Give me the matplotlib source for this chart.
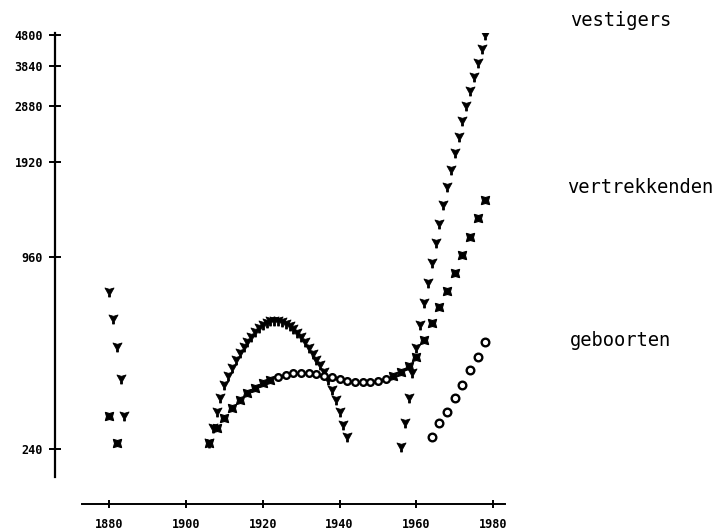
import matplotlib
matplotlib.use("Agg")
import matplotlib.pyplot as plt
from matplotlib.path import Path
from matplotlib.ticker import FixedLocator, NullLocator

# vestigers (settlers)
vest_years_early = [1880, 1881, 1882, 1883, 1884]
vest_early = [747, 615, 502, 398, 305]
vest_years_mid = list(range(1906, 1943))
vest_mid = [251, 279, 314, 347, 381, 407, 431, 457, 481, 502,
            521, 540, 560, 576, 589, 597, 606, 606, 606, 601,
            593, 584, 572, 556, 540, 521, 498, 477, 457, 441,
            419, 396, 368, 342, 314, 286, 262]
vest_years_late = list(range(1956, 1979))
vest_late = [243, 290, 347, 416, 498, 589, 690, 798, 922, 1066,
             1223, 1402, 1596, 1807, 2045, 2294, 2575, 2870, 3203, 3547,
             3923, 4337, 4800]

# vertrekkenden (leavers)
vert_years_early = [1880, 1882]
vert_early = [305, 251]
vert_years_mid = list(range(1906, 1923, 2))
vert_mid = [251, 279, 300, 323, 342, 360, 373, 387, 396]
vert_years_late = list(range(1954, 1979, 2))
vert_late = [407, 419, 438, 467, 528, 597, 671, 753, 857, 977, 1113, 1277, 1455]

# geboorten (births)
geb_years_mid = list(range(1924, 1953, 2))
geb_mid = [404, 410, 416, 416, 416, 413, 407, 404, 398, 393, 390, 390, 390, 393, 398]
geb_years_late = list(range(1964, 1979, 2))
geb_late = [262, 290, 314, 347, 381, 425, 467, 521]

yticks = [240, 960, 1920, 2880, 3840, 4800]
xticks = [1880, 1900, 1920, 1940, 1960, 1980]

# plotter-like "Y" glyph: filled arrowhead pointing down with a short stem
ymark = Path([(-1, 1), (0, 0.7), (1, 1), (0.25, -0.35), (0.2, -1),
              (-0.2, -1), (-0.25, -0.35), (-1, 1)],
             [Path.MOVETO] + [Path.LINETO] * 6 + [Path.CLOSEPOLY])

W, H = 723, 531
fig = plt.figure(figsize=(W / 100, H / 100), dpi=100)
ax = fig.add_axes([55 / W, (H - 504) / H, 455 / W, 471 / H])

ax.set_yscale("log")
ax.set_xlim(1865.9, 1984.4)
ax.set_ylim(161.2, 4870)

vstyle = dict(ls="none", marker=ymark, ms=6.5, mew=0.6, color="black")
xstyle = dict(ls="none", marker=(4, 1, 45), ms=8.5, mew=0.8, color="black")
ostyle = dict(ls="none", marker="o", ms=5.5, mfc="white", mec="black", mew=1.7)

for yrs, vals in [(vest_years_early, vest_early), (vest_years_mid, vest_mid),
                  (vest_years_late, vest_late)]:
    ax.plot(yrs, vals, **vstyle)
for yrs, vals in [(vert_years_early, vert_early), (vert_years_mid, vert_mid),
                  (vert_years_late, vert_late)]:
    ax.plot(yrs, vals, **xstyle)
ax.plot(geb_years_mid, geb_mid, **dict(ostyle, ms=4.8))
ax.plot(geb_years_late, geb_late, **ostyle)

for s in ["top", "right"]:
    ax.spines[s].set_visible(False)
ax.spines["left"].set_bounds(196, 4870)
ax.spines["bottom"].set_bounds(1873, 1983)
ax.spines["left"].set_linewidth(1.6)
ax.spines["bottom"].set_linewidth(1.4)

tfont = dict(family="DejaVu Sans Mono", weight="bold", size=8.5)
ax.yaxis.set_major_locator(FixedLocator(yticks))
ax.yaxis.set_minor_locator(NullLocator())
ax.set_yticklabels([str(t) for t in yticks], fontdict=tfont)
ax.set_xticks(xticks)
ax.set_xticklabels([str(t) for t in xticks], fontdict=tfont)
ax.tick_params(axis="y", direction="inout", length=9, width=1.4, pad=4)
ax.tick_params(axis="x", direction="inout", length=6, width=1.4, pad=7)

lfont = dict(family="DejaVu Sans Mono", size=13.5, va="center", ha="left")
fig.text(570 / W, 1 - 20 / H, "vestigers", **lfont)
fig.text(567 / W, 1 - 188 / H, "vertrekkenden", **lfont)
fig.text(570 / W, 1 - 340 / H, "geboorten", **lfont)

fig.savefig("out.png", dpi=100)
